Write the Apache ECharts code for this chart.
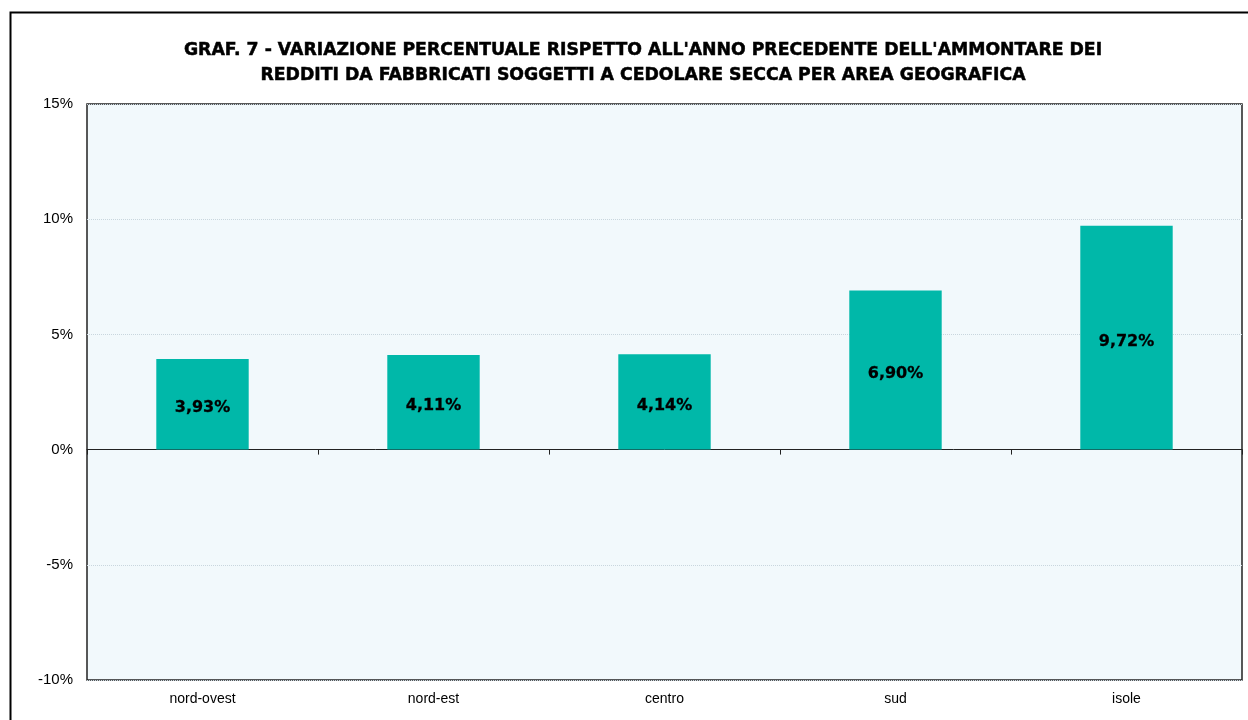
<!DOCTYPE html>
<html>
<head>
<meta charset="utf-8">
<script src="https://cdn.jsdelivr.net/npm/echarts@6/dist/echarts.min.js"></script>
<style>
  html, body { margin: 0; padding: 0; background: #fff; }
  #main { width: 1248px; height: 720px; }
</style>
</head>
<body>
<div id="main"></div>
<script>
// dati del grafico
const aree = ['nord-ovest', 'nord-est', 'centro', 'sud', 'isole'];
const variazioni = [3.93, 4.11, 4.14, 6.90, 9.72];
const titolo = "GRAF. 7 - VARIAZIONE PERCENTUALE RISPETTO ALL'ANNO PRECEDENTE DELL'AMMONTARE DEI\nREDDITI DA FABBRICATI SOGGETTI A CEDOLARE SECCA PER AREA GEOGRAFICA";
const yMin = -10, yMax = 15, yStep = 5;

const chart = echarts.init(document.getElementById('main'), null, { renderer: 'canvas' });

const font = '"Liberation Sans", Arial, sans-serif';
// testo pesante (simile ad Arial Black)
const fontHeavy = '"DejaVu Sans", sans-serif';

const option = {
    backgroundColor: '#ffffff',
    animation: false,
    graphic: [
        {
            type: 'rect',
            shape: { x: 10.5, y: 12.5, width: 1260, height: 760 },
            style: { fill: 'none', stroke: '#000', lineWidth: 2 },
            z: -1
        }
    ],
    title: {
        text: titolo,
        left: 638,
        textAlign: 'center',
        top: 33,
        textStyle: {
            fontFamily: fontHeavy,
            fontSize: 17.3,
            fontWeight: 'bold',
            color: '#000',
            lineHeight: 25,
            textBorderColor: '#000',
            textBorderWidth: 0.5
        }
    },
    grid: {
        left: 87,
        top: 104,
        right: 6,
        bottom: 40,
        show: true,
        backgroundColor: '#f2f9fc',
        borderColor: '#222',
        borderWidth: 1.5
    },
    xAxis: [
        {
            type: 'category',
            data: aree,
            position: 'bottom',
            axisLine: { show: false, onZero: false },
            axisTick: { show: false },
            axisLabel: { fontFamily: font, fontSize: 14, color: '#000', margin: 12 }
        },
        {
            type: 'category',
            data: aree,
            position: 'bottom',
            axisLine: { show: true, onZero: true, lineStyle: { color: '#222', width: 1 } },
            axisTick: { show: true, length: 5, lineStyle: { color: '#222' } },
            axisLabel: { show: false }
        }
    ],
    yAxis: {
        type: 'value',
        min: yMin,
        max: yMax,
        interval: yStep,
        axisLine: { show: false },
        axisTick: { show: false },
        axisLabel: {
            fontFamily: font,
            fontSize: 15,
            color: '#000',
            margin: 14,
            formatter: '{value}%'
        },
        splitLine: { lineStyle: { color: '#c9d6de', type: 'dotted', width: 1 } }
    },
    series: [
        {
            type: 'bar',
            xAxisIndex: 0,
            data: variazioni,
            barWidth: '40%',
            itemStyle: { color: '#00b8a9' },
            label: {
                show: true,
                position: 'inside',
                fontFamily: fontHeavy,
                fontSize: 16,
                fontWeight: 'bold',
                color: '#000',
                textBorderColor: '#000',
                textBorderWidth: 0.3,
                offset: [0, 4],
                formatter: p => p.value.toFixed(2).replace('.', ',') + '%'
            }
        }
    ]
};

chart.setOption(option);
window.addEventListener('resize', chart.resize);
</script>
</body>
</html>
